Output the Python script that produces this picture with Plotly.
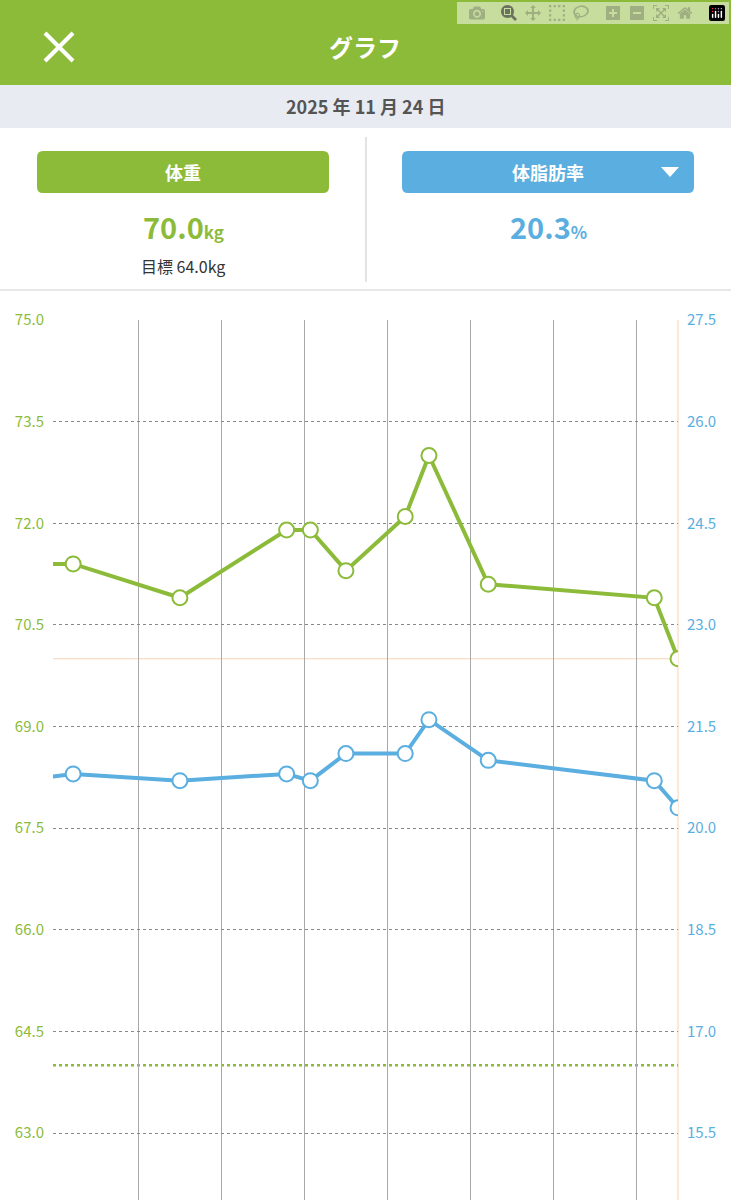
import plotly.graph_objects as go

days = [-60, -51, -42, -33, -31, -28, -23, -21, -16, -2, 0]
weight = [71.4, 71.4, 70.9, 71.9, 71.9, 71.3, 72.1, 73.0, 71.1, 70.9, 70.0]
bodyfat = [20.6, 20.8, 20.7, 20.8, 20.7, 21.1, 21.1, 21.6, 21.0, 20.7, 20.3]
left_ticks = [63.0, 64.5, 66.0, 67.5, 69.0, 70.5, 72.0, 73.5, 75.0]
right_ticks = [15.5, 17.0, 18.5, 20.0, 21.5, 23.0, 24.5, 26.0, 27.5]
grid_days = [-45.5, -38.5, -31.5, -24.5, -17.5, -10.5, -3.5]
target = 64.0
current = 70.0

GREEN = "#8cbb3a"
BLUE = "#5aaee0"
ORANGE = "#f9d3b4"
FONT = "Noto Sans CJK JP"
W, H = 731, 1200
L, R, T = 53, 678, 320

def xp(x): return (x - L) / (R - L)
def yp(y): return (H - y) / (H - T)

def rrect(x0, y0, x1, y1, r, color):
    a0, a1, b0, b1 = xp(x0), xp(x1), yp(y1), yp(y0)
    rx, ry = r / (R - L), r / (H - T)
    path = (f"M{a0+rx},{b0} L{a1-rx},{b0} Q{a1},{b0} {a1},{b0+ry} L{a1},{b1-ry} Q{a1},{b1} {a1-rx},{b1} "
            f"L{a0+rx},{b1} Q{a0},{b1} {a0},{b1-ry} L{a0},{b0+ry} Q{a0},{b0} {a0+rx},{b0} Z")
    return dict(type="path", xref="paper", yref="paper", path=path, fillcolor=color, line=dict(width=0), layer="above")

fig = go.Figure()
fig.add_trace(go.Scatter(x=days, y=weight, mode="lines+markers", line=dict(color=GREEN, width=4),
                         marker=dict(size=15, color="white", line=dict(color=GREEN, width=2))))
fig.add_trace(go.Scatter(x=days, y=bodyfat, yaxis="y2", mode="lines+markers", line=dict(color=BLUE, width=4),
                         marker=dict(size=15, color="white", line=dict(color=BLUE, width=2))))

shapes = [
    dict(type="line", xref="paper", yref="y", x0=0, x1=1, y0=current, y1=current, line=dict(color=ORANGE, width=1), layer="below"),
    dict(type="line", xref="paper", yref="paper", x0=1, x1=1, y0=0, y1=1, line=dict(color=ORANGE, width=1), layer="below"),
    dict(type="line", xref="paper", yref="y", x0=0, x1=1, y0=target, y1=target, line=dict(color=GREEN, width=2.5, dash="dot"), layer="below"),
    dict(type="rect", xref="paper", yref="paper", x0=xp(0), x1=xp(W), y0=yp(85), y1=yp(0), fillcolor=GREEN, line=dict(width=0)),
    dict(type="rect", xref="paper", yref="paper", x0=xp(0), x1=xp(W), y0=yp(128), y1=yp(85), fillcolor="#e9ebf2", line=dict(width=0)),
    dict(type="line", xref="paper", yref="paper", x0=xp(0), x1=xp(W), y0=yp(290), y1=yp(290), line=dict(color="#d0d0d0", width=1)),
    dict(type="line", xref="paper", yref="paper", x0=xp(366), x1=xp(366), y0=yp(282), y1=yp(137), line=dict(color="#c8c8c8", width=1)),
    dict(type="line", xref="paper", yref="paper", x0=xp(45), x1=xp(73), y0=yp(33), y1=yp(61), line=dict(color="white", width=4)),
    dict(type="line", xref="paper", yref="paper", x0=xp(45), x1=xp(73), y0=yp(61), y1=yp(33), line=dict(color="white", width=4)),
    rrect(37, 151, 329, 193, 6, GREEN),
    rrect(402, 151, 694, 193, 6, BLUE),
    dict(type="path", xref="paper", yref="paper",
         path=f"M{xp(661)},{yp(167)} L{xp(679)},{yp(167)} L{xp(670)},{yp(177)} Z", fillcolor="white", line=dict(width=0)),
]

ann = [
    dict(x=xp(365), y=yp(46), text="<b>グラフ</b>", font=dict(size=24, color="white")),
    dict(x=xp(365), y=yp(106), text="<b>2025 年 11 月 24 日</b>", font=dict(size=18, color="#555")),
    dict(x=xp(183), y=yp(172), text="<b>体重</b>", font=dict(size=18, color="white")),
    dict(x=xp(548), y=yp(172), text="<b>体脂肪率</b>", font=dict(size=18, color="white")),
    dict(x=xp(183), y=yp(226), text="<b>70.0</b><span style='font-size:17px'><b>kg</b></span>", font=dict(size=29, color=GREEN)),
    dict(x=xp(548), y=yp(226), text="<b>20.3</b><span style='font-size:17px'><b>%</b></span>", font=dict(size=29, color=BLUE)),
    dict(x=xp(183), y=yp(266), text="目標 64.0kg", font=dict(size=16, color="#333")),
]
for a in ann:
    a.update(xref="paper", yref="paper", showarrow=False, xanchor="center", yanchor="middle")
    a["font"]["family"] = FONT

ly0 = 63.0 - (H - 1133) / 67.75
fig.update_layout(
    width=W, height=H, margin=dict(l=L, r=W - R, t=T, b=0),
    paper_bgcolor="white", plot_bgcolor="white", showlegend=False,
    font=dict(family=FONT),
    xaxis=dict(range=[-52.7, 0], tickvals=grid_days, showticklabels=False, showgrid=True,
               gridcolor="#a8a8a8", gridwidth=1, zeroline=False, showline=False),
    yaxis=dict(range=[ly0, 75.0], tickvals=left_ticks, ticktext=[f"{v:.1f}" for v in left_ticks],
               tickfont=dict(size=15, color=GREEN), griddash="dot", gridcolor="#888", gridwidth=1,
               zeroline=False, ticks="", ticklabelstandoff=8),
    yaxis2=dict(range=[ly0 - 47.5, 27.5], overlaying="y", side="right", tickvals=right_ticks,
                ticktext=[f"{v:.1f}" for v in right_ticks], tickfont=dict(size=15, color=BLUE),
                showgrid=False, zeroline=False, ticks="", ticklabelstandoff=8),
    shapes=shapes, annotations=ann,
)
fig.write_html("out.html", post_script="document.body.style.margin='0';document.body.style.overflow='hidden';")
